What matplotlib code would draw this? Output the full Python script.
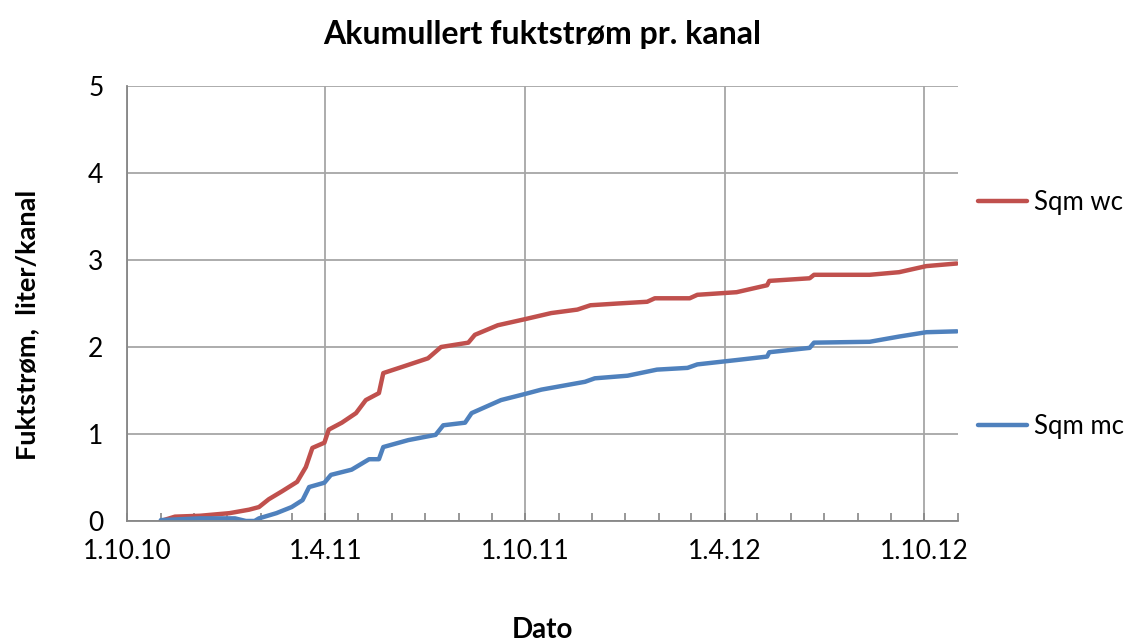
import pandas as pd
import matplotlib.pyplot as plt
import matplotlib.dates as mdates

plt.rcParams['font.family'] = ['Lato', 'DejaVu Sans']

# ==== data ====
wc_dates = ["2010-11-01", "2010-11-14", "2010-12-07", "2011-01-03", "2011-01-21",
            "2011-01-30", "2011-02-08", "2011-02-20", "2011-03-06", "2011-03-14",
            "2011-03-20", "2011-03-31", "2011-04-04", "2011-04-16", "2011-04-29",
            "2011-05-08", "2011-05-20", "2011-05-24", "2011-06-10", "2011-07-04",
            "2011-07-16", "2011-08-10", "2011-08-16", "2011-09-06", "2011-10-01",
            "2011-10-25", "2011-11-18", "2011-11-30", "2011-12-25", "2012-01-21",
            "2012-01-28", "2012-02-29", "2012-03-07", "2012-04-12", "2012-05-10",
            "2012-05-12", "2012-06-18", "2012-06-22", "2012-08-12", "2012-09-08",
            "2012-10-03", "2012-10-31"]
wc_values = [0.00, 0.05, 0.06, 0.09, 0.13,
             0.16, 0.25, 0.34, 0.45, 0.62,
             0.84, 0.90, 1.05, 1.13, 1.24,
             1.39, 1.47, 1.70, 1.77, 1.87,
             2.00, 2.05, 2.14, 2.25, 2.32,
             2.39, 2.43, 2.48, 2.50, 2.52,
             2.56, 2.56, 2.60, 2.63, 2.71,
             2.76, 2.79, 2.83, 2.83, 2.86,
             2.93, 2.96]

mc_dates = ["2010-11-01", "2010-12-07", "2011-01-08", "2011-01-18", "2011-01-26",
            "2011-01-30", "2011-02-15", "2011-03-01", "2011-03-11", "2011-03-17",
            "2011-03-31", "2011-04-06", "2011-04-25", "2011-05-11", "2011-05-20",
            "2011-05-24", "2011-06-16", "2011-07-11", "2011-07-18", "2011-08-07",
            "2011-08-13", "2011-09-09", "2011-10-01", "2011-10-16", "2011-11-25",
            "2011-12-04", "2012-01-03", "2012-01-30", "2012-02-27", "2012-03-07",
            "2012-04-12", "2012-05-10", "2012-05-12", "2012-06-18", "2012-06-22",
            "2012-08-12", "2012-09-08", "2012-10-03", "2012-10-31"]
mc_values = [0.01, 0.03, 0.03, 0.00, 0.00,
             0.03, 0.09, 0.16, 0.24, 0.39,
             0.44, 0.53, 0.59, 0.71, 0.71,
             0.85, 0.93, 0.99, 1.10, 1.13,
             1.24, 1.39, 1.46, 1.51, 1.60,
             1.64, 1.67, 1.74, 1.76, 1.80,
             1.85, 1.89, 1.94, 1.99, 2.05,
             2.06, 2.12, 2.17, 2.18]

x_wc = pd.to_datetime(wc_dates)
x_mc = pd.to_datetime(mc_dates)

# ==== plot ====
fig = plt.figure(figsize=(11.29, 6.42), dpi=100)
ax = fig.add_axes([0.1125, 0.1885, 0.736, 0.6775])

ax.plot(x_wc, wc_values, color="#C0504D", lw=3.2, label="Sqm wc", solid_capstyle="round")
ax.plot(x_mc, mc_values, color="#4F81BD", lw=3.2, label="Sqm mc", solid_capstyle="round")

ax.set_xlim(pd.Timestamp("2010-10-01"), pd.Timestamp("2012-11-01"))
ax.set_ylim(0, 5)
ax.set_yticks([0, 1, 2, 3, 4, 5])

ax.xaxis.set_major_locator(mdates.MonthLocator(bymonth=[4, 10]))
ax.xaxis.set_minor_locator(mdates.MonthLocator())
ax.xaxis.set_major_formatter(plt.FuncFormatter(
    lambda v, p: "{0.day}.{0.month}.{1}".format(mdates.num2date(v), mdates.num2date(v).strftime("%y"))))

ax.grid(True, which="major", color="#A6A6A6", lw=1.3)
ax.set_axisbelow(True)
for s in ["top", "right"]:
    ax.spines[s].set_visible(False)
for s in ["left", "bottom"]:
    ax.spines[s].set_color("#868686")
    ax.spines[s].set_linewidth(1.3)

ax.tick_params(axis="x", which="both", direction="in", length=6, color="#868686", width=1.2,
               labelsize=19, pad=13)
ax.tick_params(axis="y", length=0, labelsize=19, pad=17)

ax.set_title("Akumullert fuktstrøm pr. kanal", fontsize=23, fontweight="bold", pad=30)
ax.set_xlabel("Dato", fontsize=20, fontweight="bold", labelpad=38)
ax.set_ylabel("Fuktstrøm,  liter/kanal", fontsize=19.5, fontweight="bold")
ax.yaxis.set_label_coords(-0.106, 0.45)

fig.legend(loc="upper left", bbox_to_anchor=(0.8575, 0.72), frameon=False, fontsize=18.5,
           handlelength=1.9, handletextpad=0.25, labelspacing=7.75, borderaxespad=0)

fig.savefig("out.png", dpi=100)
